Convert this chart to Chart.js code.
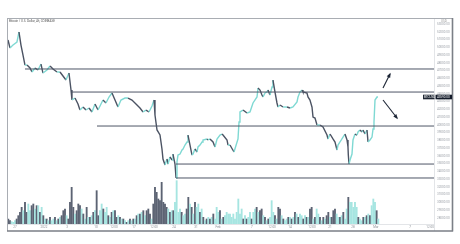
<!DOCTYPE html>
<html>
<head>
<meta charset="utf-8">
<script src="https://cdn.jsdelivr.net/npm/chart.js@4.4.1/dist/chart.umd.min.js"></script>
<style>
  html, body { margin:0; padding:0; background:#fff; }
  #wrap { width:460px; height:244px; }
</style>
</head>
<body>
<div id="wrap"><canvas id="grafica" width="460" height="244"></canvas></div>
<script>
// dias desde el 27 dic (eje x) y precio de cierre aproximado
var priceDays = [-1.24,-0.89,-0.35,0.35,0.71,1.06,1.42,1.77,2.13,2.66,
  3.01,3.55,4.08,4.61,4.96,5.67,6.21,6.74,7.45,7.98,
  8.51,9.04,9.57,9.93,10.1,10.64,11.17,11.52,12.06,12.59,
  13.12,13.65,14.18,14.72,15.25,15.6,16.13,16.67,17.2,17.73,
  18.26,18.79,19.5,20.04,20.74,21.45,22.16,22.7,23.23,23.76,
  24.29,24.65,24.82,25.18,25.71,26.06,26.24,26.6,26.95,27.13,
  27.48,27.84,28.01,28.37,28.55,28.72,28.9,29.26,29.61,29.79,
  30.14,30.5,30.67,31.03,31.38,31.56,31.91,32.27,32.45,32.8,
  33.16,33.33,34.04,34.22,34.57,35.11,35.46,35.82,36.35,36.7,
  36.88,37.59,37.77,38.12,38.83,39.54,39.72,39.89,40.43,41.13,
  41.67,42.2,42.91,43.09,43.44,43.79,43.97,44.33,44.68,44.86,
  45.21,45.57,45.74,46.1,46.45,46.63,46.99,47.52,48.23,48.76,
  49.29,50,50.18,50.53,50.89,51.06,51.77,51.95,52.3,52.66,
  52.84,53.19,53.55,54.08,54.61,55.32,55.5,55.85,56.38,56.74,
  57.09,57.27,57.62,58.16,58.51,58.87,59.04,59.1,59.22,59.4,
  59.75,59.93,60.28,60.64,60.82,61.17,61.52,61.7,62.06,62.41,
  62.59,62.94,63.3,63.48,63.65,63.83,64.18,64.36];

var priceClose = [50940,49910,50290,50680,51970,50290,49000,47710,47710,47330,
  46810,47330,47070,47840,46680,47070,47590,47200,46810,46810,
  46300,45780,46680,44490,43200,43460,42690,41910,42300,41910,
  42170,41660,42690,41910,42690,43200,42820,43590,44110,43200,
  42300,43200,43460,43460,43200,42690,42170,41660,41910,41660,
  42430,43200,41270,39340,38690,36890,35600,34820,35600,34950,
  35860,35470,36240,34950,33150,35210,36110,36240,36760,36890,
  37400,37790,38690,37400,36110,36240,36890,36500,37150,37400,
  37790,38050,38180,38050,38180,37790,37150,38180,38690,38820,
  38690,38050,37400,37400,36500,38180,40370,41660,41910,41530,
  41660,42820,43590,44750,44490,43850,43590,44110,44230,44490,
  43850,44880,45780,44230,42820,42300,42560,42300,42300,42170,
  42300,42950,43590,44230,44490,44230,44110,43590,43200,42300,
  41010,40880,39980,39980,39720,38690,38180,38820,38180,37790,
  36760,37400,37790,38430,38820,38050,37150,36110,34950,35470,
  36240,38050,38820,38690,39080,39340,39080,39340,38820,39340,
  37790,38050,38430,39470,40370,43200,43590,43590];

// volumen por vela (centenas), velas de 4h desde volStartDay
var volStartDay = -1.183;
var volStepDays = 0.2955;
var volume = [15,10,7,5,10,15,25,35,50,40,
  65,35,60,40,55,60,45,55,55,35,
  50,25,15,15,10,20,10,15,20,10,
  15,20,25,40,45,25,15,65,110,50,
  30,40,60,55,45,30,15,50,20,20,
  25,35,40,100,25,40,60,45,35,50,
  25,20,35,40,40,20,25,20,15,15,
  10,5,10,15,10,15,15,25,30,30,
  35,40,25,40,45,30,15,60,110,95,
  75,70,125,65,60,50,45,35,40,40,
  65,130,35,45,35,25,30,45,80,60,
  50,30,65,50,60,35,45,20,10,15,
  20,15,20,30,15,50,35,40,15,20,
  25,35,30,30,
  20,30,15,35,75,30,45,15,25,15,
  20,35,15,35,45,50,35,40,45,25,
  20,10,15,20,70,35,25,15,50,45,
  25,15,10,15,20,20,15,20,35,30,
  20,30,25,15,25,20,20,45,50,15,
  20,45,30,20,10,20,15,25,35,20,
  20,40,45,30,20,20,25,35,15,45,
  80,65,65,50,65,50,20,15,10,20,
  20,25,30,25,55,75,65,40,15];
var volDir = "dduuuddddu" + "dduuddudud" + "udududuudu" + "dudddudddd" + "udddududud" +
  "ududduuduu" + "dududdudud" + "ududududud" + "ududdduddd" + "ddddddudud" +
  "uuuuduuddu" + "duduududud" + "ududuuudud" + "uuuu" +
  "uuuuuuudud" + "uuduududdu" + "duduuududd" + "uduudududu" + "duudududdu" +
  "duudududdu" + "ddduududuu" + "duuuuuduud" + "ududuuudu";

// niveles horizontales (precio y dia de inicio)
var levelPrices = [47200, 44230, 39850, 34950, 33150];
var levelStart = [1.77, 10.1, 14.54, 28.55, 28.55];

// flechas [dia, precio] -> [dia, precio]
var arrows = [
  { from: [65.25, 44750], to: [66.49, 46550] },
  { from: [65.25, 43200], to: [67.73, 40880] }
];

// etiquetas del eje de tiempo
var tickDays = [0, 5.14, 9.22, 14.36, 17.55, 21.1, 24.65, 28.2, 32.1, 36, 42, 45.57, 48.76, 52.66, 55.85, 59.93, 64, 70.04, 73.6];
var tickLabels = ["27", "2022", "3", "10", "12:00", "17", "12:00", "24", "31", "Feb", "7", "12:00", "14", "12:00", "21", "28", "Mar", "7", "12:00"];

// etiquetas del eje de precio
var priceTicks = [53000, 52000, 51000, 50000, 49000, 48000, 47000, 46000, 45000, 44000, 43000, 42000, 41000,
  40000, 39000, 38000, 37000, 36000, 35000, 34000, 33000, 32000, 31000, 30000, 29000, 28000];

var xMin = -1.24, xMax = 74.29;
var yMin = 27220, yMax = 53645;

var tealLine = "#7fd9d3", darkLine = "#4b5363";
var tealVol = "#a6e5e1", darkVol = "#5c6373";
var levelColor = "#4d5566";

var pricePts = [];
for (var i = 0; i < priceDays.length; i++) pricePts.push({ x: priceDays[i], y: priceClose[i] });

var volPts = [], volColors = [];
for (var j = 0; j < volume.length; j++) {
  volPts.push({ x: volStartDay + j * volStepDays, y: volume[j] });
  volColors.push(volDir.charAt(j) == "u" ? tealVol : darkVol);
}

var datasets = [];
for (var k = 0; k < levelPrices.length; k++) {
  datasets.push({
    type: "line",
    data: [{ x: levelStart[k], y: levelPrices[k] }, { x: xMax, y: levelPrices[k] }],
    borderColor: levelColor,
    borderWidth: 1,
    pointRadius: 0,
    yAxisID: "y",
    order: 1
  });
}
datasets.push({
  type: "line",
  data: pricePts,
  borderWidth: 1.4,
  pointRadius: 0,
  tension: 0,
  yAxisID: "y",
  order: 2,
  segment: {
    borderColor: function(ctx) {
      return ctx.p1.parsed.y >= ctx.p0.parsed.y ? tealLine : darkLine;
    }
  }
});
datasets.push({
  type: "bar",
  data: volPts,
  backgroundColor: volColors,
  barThickness: 1.2,
  yAxisID: "yv",
  order: 3
});

var fontTiny = { family: "Roboto", size: 3 };

var marco = {
  id: "marco",
  beforeDraw: function(chart) {
    var c = chart.ctx, a = chart.chartArea;
    c.save();
    c.fillStyle = "#fff";
    c.fillRect(0, 0, chart.width, chart.height);
    c.strokeStyle = "#e3e5e8";
    c.lineWidth = 1;
    c.beginPath();
    c.moveTo(a.right + 0.5, a.top); c.lineTo(a.right + 0.5, 231);
    c.moveTo(a.left, a.bottom + 0.5); c.lineTo(a.right, a.bottom + 0.5);
    c.stroke();
    c.strokeStyle = "#a9adb3";
    c.beginPath();
    c.moveTo(7, 18.5); c.lineTo(453, 18.5);
    c.moveTo(7.5, 18); c.lineTo(7.5, 231);
    c.stroke();
    c.strokeStyle = "#7b7f86";
    c.lineWidth = 1.6;
    c.beginPath();
    c.moveTo(452.5, 18); c.lineTo(452.5, 231.5);
    c.moveTo(7, 231); c.lineTo(453, 231);
    c.stroke();
    c.restore();
  },
  afterDraw: function(chart) {
    var c = chart.ctx, sx = chart.scales.x, sy = chart.scales.y, a = chart.chartArea;
    c.save();
    // flechas
    c.strokeStyle = "#1d2636";
    c.fillStyle = "#1d2636";
    c.lineWidth = 1.1;
    arrows.forEach(function(ar) {
      var x0 = sx.getPixelForValue(ar.from[0]), y0 = sy.getPixelForValue(ar.from[1]);
      var x1 = sx.getPixelForValue(ar.to[0]), y1 = sy.getPixelForValue(ar.to[1]);
      var ang = Math.atan2(y1 - y0, x1 - x0);
      c.beginPath(); c.moveTo(x0, y0); c.lineTo(x1, y1); c.stroke();
      c.beginPath();
      c.moveTo(x1 + Math.cos(ang) * 1.5, y1 + Math.sin(ang) * 1.5);
      c.lineTo(x1 - Math.cos(ang - 0.5) * 4, y1 - Math.sin(ang - 0.5) * 4);
      c.lineTo(x1 - Math.cos(ang + 0.5) * 4, y1 - Math.sin(ang + 0.5) * 4);
      c.closePath(); c.fill();
    });
    // titulo
    c.font = "3px Roboto";
    c.fillStyle = "#555";
    c.textBaseline = "middle";
    c.textAlign = "left";
    c.fillText("Bitcoin / U.S. Dollar, 4h, COINBASE", 9, 21);
    c.fillStyle = "#999";
    c.fillText("USD", 441, 21);
    // etiqueta del ultimo precio
    var last = priceClose[priceClose.length - 1];
    var py = sy.getPixelForValue(last);
    c.fillStyle = "#1e2633";
    c.fillRect(423, py - 2.3, 11.5, 4.6);
    c.fillStyle = "#131b2a";
    c.fillRect(435.5, py - 2.3, 16.5, 4.6);
    c.fillStyle = "#fff";
    c.fillText("BTCUSD", 424, py);
    c.fillText(last.toFixed(2), 437, py);
    c.restore();
  }
};

var contenedor = document.getElementById("grafica").getContext("2d");
var grafica = new Chart(contenedor, {
  type: "bar",
  data: { datasets: datasets },
  options: {
    responsive: false,
    devicePixelRatio: 1,
    animation: false,
    layout: { padding: { left: 8, top: 19, right: 7, bottom: 14 } },
    plugins: { legend: { display: false }, tooltip: { enabled: false } },
    scales: {
      x: {
        type: "linear",
        min: xMin,
        max: xMax,
        offset: false,
        grid: { display: false, drawTicks: false },
        border: { display: false },
        afterBuildTicks: function(scale) {
          scale.ticks = tickDays.map(function(v) { return { value: v }; });
        },
        afterFit: function(scale) { scale.height = 6; },
        ticks: {
          autoSkip: false,
          maxRotation: 0,
          padding: 1.5,
          color: "#8a8f96",
          font: fontTiny,
          callback: function(v, i) { return tickLabels[i]; }
        }
      },
      y: {
        position: "right",
        min: yMin,
        max: yMax,
        grid: { display: false, drawTicks: false },
        border: { display: false },
        afterBuildTicks: function(scale) {
          scale.ticks = priceTicks.map(function(v) { return { value: v }; });
        },
        afterFit: function(scale) { scale.width = 19; },
        ticks: {
          autoSkip: false,
          padding: 3,
          color: "#9a9fa6",
          font: fontTiny,
          callback: function(v) { return Number(v).toFixed(2); }
        }
      },
      yv: {
        display: false,
        min: 0,
        max: 615
      }
    }
  },
  plugins: [marco]
});
</script>
</body>
</html>
